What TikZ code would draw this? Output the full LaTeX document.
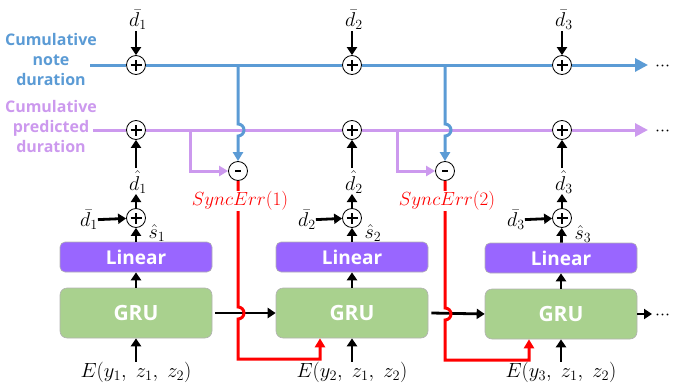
\RequirePackage{fix-cm}
\documentclass[tikz,border=0pt]{standalone}
\usepackage{fontspec}
\setsansfont{Open Sans}
\usetikzlibrary{arrows.meta}
\definecolor{cblue}{RGB}{91,155,213}
\definecolor{cpurp}{RGB}{204,153,238}
\definecolor{clin}{RGB}{153,102,255}
\definecolor{cgru}{RGB}{169,209,142}
\begin{document}
\begin{tikzpicture}[x=1pt,y=-1pt,
 plusc/.style={circle,draw,line width=0.8pt,fill=white,minimum size=19pt,inner sep=0pt,
   path picture={\draw[line width=2.4pt] ([xshift=-5.5pt]path picture bounding box.center)--([xshift=5.5pt]path picture bounding box.center) ([yshift=-5.5pt]path picture bounding box.center)--([yshift=5.5pt]path picture bounding box.center);}},
 minusc/.style={circle,draw,line width=0.8pt,fill=white,minimum size=19pt,inner sep=0pt,
   path picture={\draw[line width=2.6pt] ([xshift=-3pt]path picture bounding box.center)--([xshift=3pt]path picture bounding box.center);}},
 linbox/.style={rectangle,rounded corners=5pt,draw=black!30,line width=0.6pt,fill=clin,minimum width=152pt,minimum height=30pt,text=white,font=\sffamily\bfseries\fontsize{19}{22}\selectfont},
 grubox/.style={rectangle,rounded corners=7pt,draw=black!30,line width=0.6pt,fill=cgru,minimum width=152pt,minimum height=50pt,text=white,font=\sffamily\bfseries\fontsize{21}{24}\selectfont},
 mlab/.style={inner sep=0pt,font=\fontsize{20}{23}\selectfont},
 elab/.style={inner sep=0pt,font=\fontsize{20.5}{23}\selectfont},
 selab/.style={inner sep=1pt,fill=white,text=red,font=\fontsize{19}{22}\selectfont},
 sidetxt/.style={align=center,inner sep=0pt,font=\sffamily\bfseries\fontsize{16}{20}\selectfont},
 dotlab/.style={inner sep=0pt,anchor=west,font=\fontsize{18}{20}\selectfont},
 blk/.style={line width=2.8pt,-{Triangle[length=8pt,width=10pt]}},
 bline/.style={draw=cblue,line width=3pt},
 pline/.style={draw=cpurp,line width=3pt},
 rline/.style={draw=red,line width=3pt},
 bigtip/.style={-{Triangle[length=13pt,width=13pt]}},
 smtip/.style={-{Triangle[length=9pt,width=10pt]}}
]
\useasboundingbox (0,0) rectangle (673,386);

% side texts
\node[sidetxt,text=cblue] (tnote) at (51,59) {Cumulative\\note\\duration};
\node[sidetxt,text=cpurp] (tpred) at (51,126) {Cumulative\\predicted\\duration};

% circles
\node[plusc] (pb1) at (136,65) {};
\node[plusc] (pb2) at (352,65) {};
\node[plusc] (pb3) at (562,65) {};
\node[plusc] (pp1) at (136,130) {};
\node[plusc] (pp2) at (352,130) {};
\node[plusc] (pp3) at (562,130) {};
\node[plusc] (ps1) at (136,218) {};
\node[plusc] (ps2) at (352,218) {};
\node[plusc] (ps3) at (562,218) {};
\node[minusc] (m1) at (238,171) {};
\node[minusc] (m2) at (445,171) {};

% boxes
\node[linbox] (lin1) at (136,257) {Linear};
\node[linbox] (lin2) at (352,257) {Linear};
\node[linbox] (lin3) at (561,258) {Linear};
\node[grubox] (gru1) at (136,313) {GRU};
\node[grubox] (gru2) at (352,313) {GRU};
\node[grubox] (gru3) at (561,314) {GRU};

% labels
\node[mlab] (db1) at (138,20) {$\bar{d}_1$};
\node[mlab] (db2) at (354,20) {$\bar{d}_2$};
\node[mlab] (db3) at (564,20) {$\bar{d}_3$};
\node[mlab] (dh1) at (138,182) {$\hat{d}_1$};
\node[mlab] (dh2) at (354,182) {$\hat{d}_2$};
\node[mlab] (dh3) at (564,182) {$\hat{d}_3$};
\node[mlab] (dl1) at (89,220) {$\bar{d}_1$};
\node[mlab] (dl2) at (307,220) {$\bar{d}_2$};
\node[mlab] (dl3) at (516,220) {$\bar{d}_3$};
\node[mlab] (sh1) at (157,233) {$\hat{s}_1$};
\node[mlab] (sh2) at (373,233) {$\hat{s}_2$};
\node[mlab] (sh3) at (583,234) {$\hat{s}_3$};
\node[elab] (e1) at (136,372) {$E(y_1,\;z_1,\;z_2)$};
\node[elab] (e2) at (352,372) {$E(y_2,\;z_1,\;z_2)$};
\node[elab] (e3) at (561,372) {$E(y_3,\;z_1,\;z_2)$};
\node[dotlab] (dotb) at (655,66) {$\mathord{\cdotp}\mathord{\cdotp}\mathord{\cdotp}$};
\node[dotlab] (dotp) at (655,131) {$\mathord{\cdotp}\mathord{\cdotp}\mathord{\cdotp}$};
\node[dotlab] (dotg) at (655,315) {$\mathord{\cdotp}\mathord{\cdotp}\mathord{\cdotp}$};

% coordinates
\coordinate (bstart) at (90,65);
\coordinate (pstart) at (93,130);
\coordinate (bend) at (648,65);
\coordinate (pend) at (648,130);
\coordinate (bj1) at (238,65);
\coordinate (bj2) at (445,65);
\coordinate (pj1) at (190,130);
\coordinate (pj2) at (397,130);
\coordinate (gend) at (652,314);
\coordinate (dh1b) at (136,194);
\coordinate (dh2b) at (352,194);
\coordinate (dh3b) at (562,194);
\coordinate (dh1t) at (136,168);
\coordinate (dh2t) at (352,168);
\coordinate (dh3t) at (562,168);

% purple line
\draw[pline] (pstart) -- (pp1);
\draw[pline] (pp1) -- (pp2);
\draw[pline] (pp2) -- (pp3);
\draw[pline,bigtip] (pp3) -- (pend);
\draw[pline,smtip] (pj1) |- (m1.west);
\draw[pline,smtip] (pj2) |- (m2.west);

% blue line
\draw[bline] (bstart) -- (pb1);
\draw[bline] (pb1) -- (pb2);
\draw[bline] (pb2) -- (pb3);
\draw[bline,bigtip] (pb3) -- (bend);
\draw[bline,smtip] (bj1) -- (238,124) arc[start angle=90,end angle=-90,radius=6pt] -- (m1.north);
\draw[bline,smtip] (bj2) -- (445,124) arc[start angle=90,end angle=-90,radius=6pt] -- (m2.north);

% black arrows
\foreach \i/\x in {1/136,2/352,3/562}{
  \draw[blk] (\x,31) -- (pb\i);
  \draw[blk] (dh\i t) -- (pp\i);
  \draw[blk] (ps\i) -- (dh\i b);
  \draw[blk] (dl\i) -- (ps\i);
  \draw[blk] (lin\i) -- (ps\i);
  \draw[blk] (gru\i) -- (lin\i);
  \draw[blk] (e\i) -- (gru\i);
}
\draw[blk] ([xshift=3pt]gru1.east) -- (gru2.west);
\draw[blk] ([xshift=3pt]gru2.east) -- (gru3.west);
\draw[blk] (gru3.east) -- (gend);

% red lines
\draw[rline,smtip] (m1.south) -- (238,307) arc[start angle=90,end angle=-90,radius=6pt] -- (238,359) -| ([xshift=-32pt]gru2.south);
\draw[rline,smtip] (m2.south) -- (445,308) arc[start angle=90,end angle=-90,radius=6pt] -- (445,360) -| ([xshift=-32pt]gru3.south);
\node[selab] (se1) at (240,201) {$SyncErr(1)$};
\node[selab] (se2) at (447,201) {$SyncErr(2)$};
\end{tikzpicture}
\end{document}
